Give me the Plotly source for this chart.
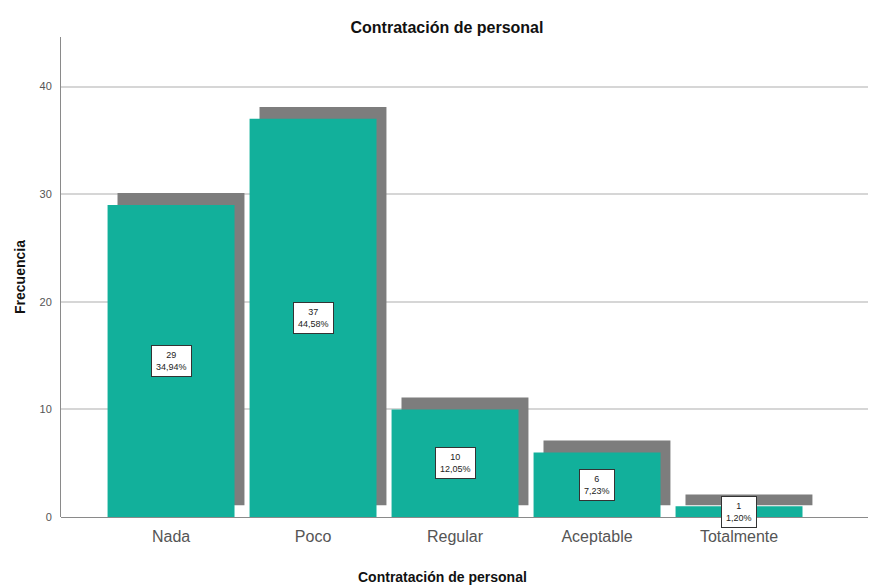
import plotly.graph_objects as go

categories = ["Nada", "Poco", "Regular", "Aceptable", "Totalmente"]
counts = [29, 37, 10, 6, 1]
percents = ["34,94%", "44,58%", "12,05%", "7,23%", "1,20%"]
y_ticks = [0, 10, 20, 30, 40]

teal = "#12b09b"
shadow = "#7d7d7d"
bar_w = 0.894
shadow_dx = 0.07
shadow_dy = 1.1

xs = list(range(len(categories)))

fig = go.Figure()
fig.add_trace(go.Bar(
    x=xs, y=counts, base=[shadow_dy] * len(counts),
    width=bar_w, offset=-bar_w / 2 + shadow_dx,
    marker=dict(color=shadow, line=dict(width=0)),
    hoverinfo="skip", showlegend=False,
))
fig.add_trace(go.Bar(
    x=xs, y=counts, width=bar_w, offset=-bar_w / 2,
    marker=dict(color=teal, line=dict(width=0)),
    showlegend=False,
))

for x, c, p in zip(xs, counts, percents):
    fig.add_annotation(
        x=x, y=c / 2, xref="x", yref="y",
        text=f"{c}<br>{p}", showarrow=False,
        font=dict(family="Arial, Liberation Sans, sans-serif", size=9, color="#222"),
        bgcolor="white", bordercolor="#333", borderwidth=1, borderpad=4,
    )

# x-axis title
fig.add_annotation(
    x=0.463, y=-0.125, xref="paper", yref="paper",
    text="<b>Contratación de personal</b>", showarrow=False,
    xanchor="center", yanchor="middle",
    font=dict(size=14, color="#111"),
)

fig.update_layout(
    width=876, height=585,
    margin=dict(l=53, r=0, t=29, b=76),
    paper_bgcolor="white", plot_bgcolor="white",
    barmode="overlay",
    font=dict(family="Arial, Liberation Sans, sans-serif", color="#222"),
    title=dict(text="<b>Contratación de personal</b>", x=0.469, xref="paper", xanchor="center",
               y=1 - 19 / 585, yanchor="middle", font=dict(size=16, color="#111")),
    xaxis=dict(
        range=[-0.775, 5.021], tickvals=xs, ticktext=categories,
        showgrid=False, zeroline=False, showline=False, ticks="",
        ticklabelstandoff=8,
        tickfont=dict(size=16, color="#555"),
    ),
    yaxis=dict(
        range=[0, 44.6], tickvals=y_ticks, ticktext=[str(t) for t in y_ticks],
        showgrid=True, gridcolor="#d6d6d6", gridwidth=1.5,
        zeroline=True, zerolinecolor="#8a8a8a", zerolinewidth=1,
        showline=True, linecolor="#8a8a8a", linewidth=1, ticks="",
        ticklabelstandoff=6,
        tickfont=dict(size=11, color="#555"),
        title=dict(text="<b>Frecuencia</b>", font=dict(size=14, color="#111"), standoff=10),
    ),
)
fig.write_html("out.html")
